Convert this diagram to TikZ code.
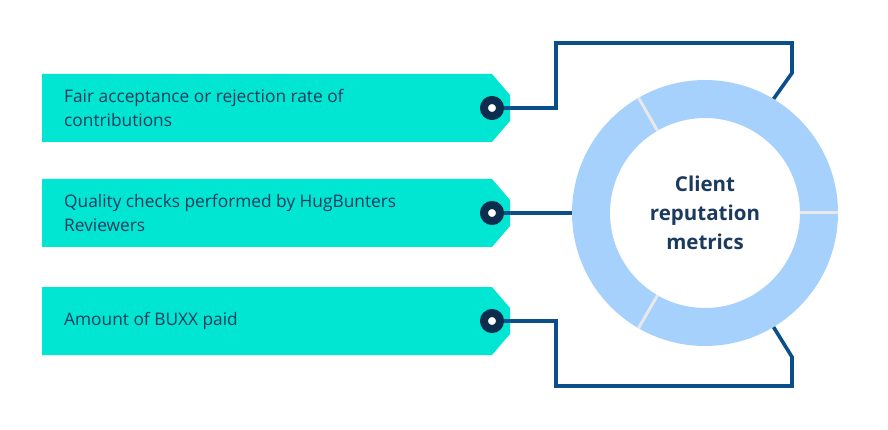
\documentclass[tikz,border=0pt]{standalone}
\usepackage{fontspec}
\setmainfont{Open Sans}
\usepackage{xcolor}
\usepackage{tikz}
\usetikzlibrary{calc}
\usetikzlibrary{backgrounds}
\usetikzlibrary{shapes.geometric, shapes.misc, arrows}
\definecolor{tagfill}{HTML}{00E6D2}
\definecolor{ringblue}{HTML}{A5D1FC}
\definecolor{linkblue}{HTML}{0B4F8A}
\definecolor{holeblue}{HTML}{0D2D4F}
\definecolor{textblue}{HTML}{1B3B5E}
\tikzstyle{tagtext} = [anchor=west,
	align=left,
	inner sep=0pt,
	text=textblue,
	font=\fontsize{17.3}{24}\selectfont]
\tikzstyle{hole} = [circle,
	draw=holeblue,
	fill=white,
	line width=8pt,
	minimum size=16pt,
	inner sep=0pt]
\tikzstyle{link} = [draw=linkblue, line width=3.6pt]
\tikzstyle{gap} = [draw=gray!18, line width=3pt]
\newcommand{\drawtag}[3]{\fill[tagfill] (42,#2) -- (492,#2) -- (510,#2+21)
	-- (510,#2+47) -- (492,#2+68) -- (42,#2+68) -- cycle;
	\node[tagtext] (#1) at (64,#2+34) {#3};
	\node[hole] (#1h) at (492,#2+34) {}}

\begin{document}
\begin{tikzpicture}[x=1pt, y=-1pt]
		\useasboundingbox (0,0) rectangle (888,430);
		
		\drawtag{fair}{74}{Fair acceptance or rejection rate of\\contributions};
		\drawtag{qual}{179}{Quality checks performed by HugBunters\\Reviewers};
		\drawtag{buxx}{287}{Amount of BUXX paid};
		
		\node (ring) [circle, draw=ringblue, line width=38pt,
			minimum size=228pt, inner sep=0pt] at (705,213) {};
		\foreach \a in {0,120,240}
			\draw [gap] ($(ring.center)+(\a:95pt)$) -- ($(ring.center)+(\a:133pt)$);
		\node (title) [align=center, text=textblue,
			font=\fontsize{20.5}{29}\selectfont\bfseries] at (ring.center)
			{Client\\reputation\\metrics};
		
		\begin{scope}[on background layer]
			\draw [link] (fairh.center) -- ++(64,0) |- (792,43)
				-- (792,73) -- (ring.59);
			\draw [link] (qualh.center) -- (qualh.center -| ring.west);
			\draw [link] (buxxh.center) -- ++(64,0) |- (792,386)
				-- (792,357) -- (ring.-59);
		\end{scope}
		\draw [link] (fairh.east) -- ++(6,0);
		\draw [link] (qualh.east) -- ++(6,0);
		\draw [link] (buxxh.east) -- ++(6,0);
	\end{tikzpicture}
\end{document}
